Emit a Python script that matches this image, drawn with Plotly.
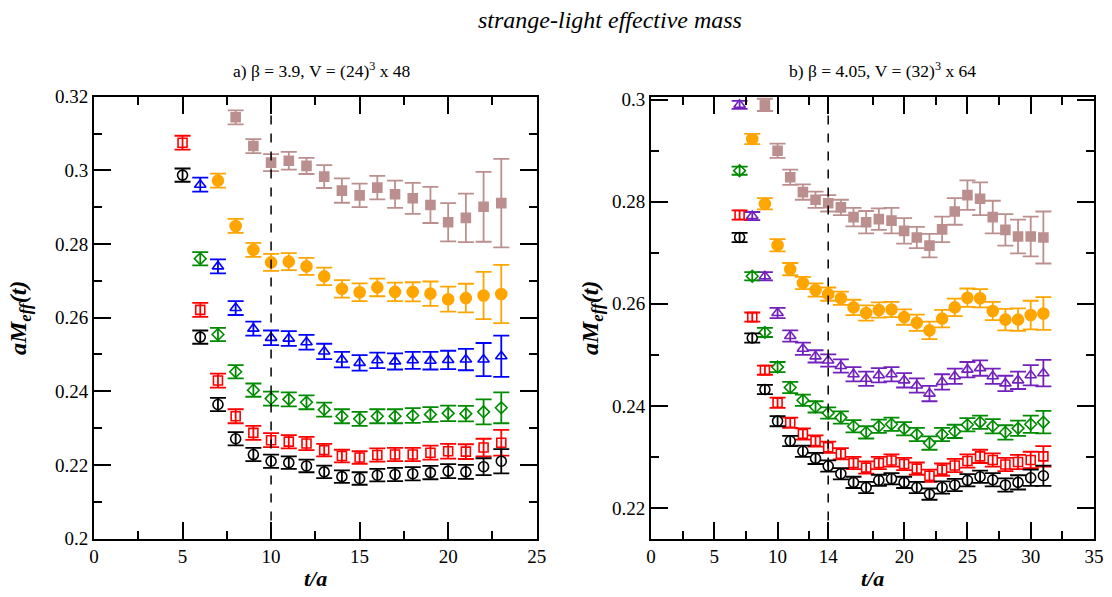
import plotly.graph_objects as go

# ---------------- data: panel a) beta=3.9 ----------------
tL_black = list(range(5, 24))
black_L = [0.2987, 0.2547, 0.2364, 0.2271, 0.2228, 0.2210, 0.2206, 0.2197, 0.2181, 0.2168,
           0.2163, 0.2172, 0.2174, 0.2176, 0.2179, 0.2183, 0.2181, 0.2195, 0.2210]
black_L_err = [0.0018, 0.0018, 0.0018, 0.0018, 0.0018, 0.0018, 0.0017, 0.0017, 0.0017, 0.0017,
               0.0017, 0.0017, 0.0018, 0.0018, 0.0018, 0.0019, 0.0019, 0.0023, 0.0033]

tL_red = list(range(5, 24))
red_L = [0.3075, 0.2621, 0.2429, 0.2332, 0.2287, 0.2267, 0.2263, 0.2258, 0.2240, 0.2224,
         0.2220, 0.2227, 0.2228, 0.2228, 0.2233, 0.2237, 0.2236, 0.2247, 0.2260]
red_L_err = [0.0019, 0.0019, 0.0019, 0.0019, 0.0019, 0.0019, 0.0018, 0.0018, 0.0017, 0.0017,
             0.0017, 0.0018, 0.0018, 0.0018, 0.0019, 0.0020, 0.0020, 0.0024, 0.0035]

tL_blue = list(range(6, 24))
blue_L = [0.2961, 0.2739, 0.2626, 0.2570, 0.2545, 0.2543, 0.2533, 0.2508, 0.2486, 0.2477,
          0.2484, 0.2481, 0.2484, 0.2483, 0.2485, 0.2486, 0.2486, 0.2495]
blue_L_err = [0.0019, 0.0019, 0.0019, 0.0019, 0.0020, 0.0020, 0.0020, 0.0021, 0.0021, 0.0021,
              0.0021, 0.0022, 0.0023, 0.0024, 0.0025, 0.0029, 0.0045, 0.0056]

tL_green = list(range(6, 24))
green_L = [0.2760, 0.2554, 0.2453, 0.2403, 0.2380, 0.2378, 0.2370, 0.2350, 0.2332, 0.2325,
           0.2332, 0.2332, 0.2334, 0.2337, 0.2340, 0.2339, 0.2344, 0.2355]
green_L_err = [0.0018, 0.0018, 0.0018, 0.0018, 0.0019, 0.0019, 0.0019, 0.0019, 0.0019, 0.0019,
               0.0019, 0.0019, 0.0020, 0.0020, 0.0021, 0.0021, 0.0034, 0.0042]

tL_orange = list(range(7, 24))
orange_L = [0.2972, 0.2849, 0.2784, 0.2750, 0.2752, 0.2739, 0.2712, 0.2678, 0.2669, 0.2682,
            0.2670, 0.2670, 0.2665, 0.2650, 0.2653, 0.2660, 0.2664]
orange_L_err = [0.0019, 0.0019, 0.0019, 0.0023, 0.0023, 0.0023, 0.0024, 0.0024, 0.0024, 0.0024,
                0.0025, 0.0026, 0.0033, 0.0034, 0.0039, 0.0064, 0.0079]

tL_brown = list(range(8, 24))
brown_L = [0.3144, 0.3066, 0.3021, 0.3026, 0.3012, 0.2983, 0.2945, 0.2932, 0.2953, 0.2935,
           0.2924, 0.2906, 0.2859, 0.2871, 0.2901, 0.2911]
brown_L_err = [0.0019, 0.0019, 0.0023, 0.0024, 0.0022, 0.0031, 0.0033, 0.0032, 0.0032, 0.0037,
               0.0042, 0.0049, 0.0052, 0.0066, 0.0095, 0.0120]

# ---------------- data: panel b) beta=4.05 ----------------
tR_black = list(range(7, 32))
black_R = [0.2730, 0.2533, 0.2432, 0.2370, 0.2331, 0.2311, 0.2297, 0.2282, 0.2267, 0.2250,
           0.2240, 0.2254, 0.2257, 0.2250, 0.2240, 0.2227, 0.2240, 0.2245, 0.2254, 0.2261,
           0.2255, 0.2245, 0.2250, 0.2259, 0.2263]
black_R_err = [0.0009, 0.0009, 0.0009, 0.0010, 0.0010, 0.0011, 0.0011, 0.0011, 0.0011, 0.0011,
               0.0011, 0.0011, 0.0011, 0.0011, 0.0011, 0.0011, 0.0012, 0.0012, 0.0012, 0.0012,
               0.0013, 0.0013, 0.0014, 0.0016, 0.0020]

tR_red = list(range(7, 32))
red_R = [0.2774, 0.2574, 0.2470, 0.2406, 0.2367, 0.2345, 0.2331, 0.2319, 0.2306, 0.2288,
         0.2279, 0.2288, 0.2293, 0.2286, 0.2277, 0.2263, 0.2275, 0.2283, 0.2292, 0.2301,
         0.2294, 0.2285, 0.2290, 0.2294, 0.2301]
red_R_err = [0.0009, 0.0009, 0.0009, 0.0010, 0.0010, 0.0011, 0.0011, 0.0011, 0.0011, 0.0012,
             0.0012, 0.0012, 0.0012, 0.0012, 0.0012, 0.0012, 0.0012, 0.0013, 0.0013, 0.0013,
             0.0013, 0.0013, 0.0014, 0.0016, 0.0020]

tR_green = list(range(7, 32))
green_R = [0.2861, 0.2654, 0.2544, 0.2476, 0.2436, 0.2411, 0.2398, 0.2386, 0.2377, 0.2360,
           0.2348, 0.2360, 0.2364, 0.2355, 0.2344, 0.2327, 0.2344, 0.2350, 0.2363, 0.2368,
           0.2360, 0.2348, 0.2356, 0.2364, 0.2368]
green_R_err = [0.0008, 0.0008, 0.0009, 0.0010, 0.0011, 0.0011, 0.0011, 0.0011, 0.0012, 0.0012,
               0.0012, 0.0013, 0.0013, 0.0013, 0.0013, 0.0013, 0.0013, 0.0013, 0.0013, 0.0013,
               0.0014, 0.0014, 0.0015, 0.0017, 0.0022]

tR_purple = list(range(7, 32))
purple_R = [0.2990, 0.2772, 0.2654, 0.2582, 0.2537, 0.2512, 0.2497, 0.2489, 0.2478, 0.2462,
            0.2453, 0.2460, 0.2462, 0.2450, 0.2440, 0.2424, 0.2447, 0.2458, 0.2471, 0.2474,
            0.2458, 0.2444, 0.2450, 0.2460, 0.2464]
purple_R_err = [0.0008, 0.0008, 0.0008, 0.0010, 0.0011, 0.0012, 0.0012, 0.0012, 0.0013, 0.0014,
                0.0014, 0.0014, 0.0014, 0.0014, 0.0014, 0.0015, 0.0015, 0.0015, 0.0015, 0.0015,
                0.0015, 0.0015, 0.0017, 0.0020, 0.0026]

tR_orange = list(range(8, 32))
orange_R = [0.2923, 0.2796, 0.2715, 0.2668, 0.2641, 0.2627, 0.2619, 0.2611, 0.2593, 0.2582,
            0.2588, 0.2589, 0.2574, 0.2563, 0.2548, 0.2571, 0.2593, 0.2612, 0.2611, 0.2586,
            0.2569, 0.2569, 0.2578, 0.2581]
orange_R_err = [0.0010, 0.0011, 0.0012, 0.0012, 0.0012, 0.0013, 0.0013, 0.0013, 0.0015, 0.0015,
                0.0015, 0.0015, 0.0015, 0.0016, 0.0017, 0.0017, 0.0017, 0.0018, 0.0018, 0.0018,
                0.0021, 0.0022, 0.0028, 0.0032]

tR_brown = list(range(9, 32))
brown_R = [0.2990, 0.2900, 0.2848, 0.2819, 0.2804, 0.2797, 0.2789, 0.2770, 0.2760, 0.2766,
           0.2763, 0.2743, 0.2730, 0.2714, 0.2746, 0.2781, 0.2813, 0.2806, 0.2770, 0.2745,
           0.2732, 0.2732, 0.2730]
brown_R_err = [0.0012, 0.0014, 0.0015, 0.0015, 0.0016, 0.0016, 0.0015, 0.0018, 0.0022, 0.0021,
               0.0025, 0.0025, 0.0021, 0.0023, 0.0025, 0.0026, 0.0029, 0.0032, 0.0032, 0.0031,
               0.0033, 0.0039, 0.0051]

# tick labels
xL_ticks = [0, 5, 10, 15, 20, 25]
xL_minor = [2.5, 7.5, 12.5, 17.5, 22.5]
xR_ticks = [0, 5, 10, 14, 20, 25, 30, 35]
xR_minor = [2.5, 7.5, 12.5, 17.5, 22.5, 27.5, 32.5]
yL_ticks = [0.2, 0.22, 0.24, 0.26, 0.28, 0.3, 0.32]
yL_minor = [0.21, 0.23, 0.25, 0.27, 0.29, 0.31]
yR_ticks = [0.22, 0.24, 0.26, 0.28, 0.3]
yR_minor = [0.23, 0.25, 0.27, 0.29]

title_text = "<i>strange-light effective mass</i>"
panelA_title = "a) β = 3.9, V = (24)<sup>3</sup> x 48"
panelB_title = "b) β = 4.05, V = (32)<sup>3</sup> x 64"

# ---------------- colours ----------------
C_BLACK = "#000000"
C_RED = "#ff0000"
C_BLUE = "#0000ff"
C_GREEN = "#008b00"
C_ORANGE = "#ffa500"
C_BROWN = "#bc8f8f"
C_PURPLE = "#7221bc"

FONT = "Liberation Serif"

fig = go.Figure()


def add(t, v, e, color, symbol, size, xa, ya):
    fig.add_trace(go.Scatter(
        x=t, y=v, mode="markers", xaxis=xa, yaxis=ya, showlegend=False,
        marker=dict(symbol=symbol, size=size, color=color,
                    line=dict(color=color, width=1.6)),
        error_y=dict(type="data", array=e, visible=True, color=color,
                     thickness=1.8, width=8),
    ))


add(tL_brown, brown_L, brown_L_err, C_BROWN, "square", 9, "x", "y")
add(tL_orange, orange_L, orange_L_err, C_ORANGE, "circle", 11, "x", "y")
add(tL_blue, blue_L, blue_L_err, C_BLUE, "triangle-up-open", 10, "x", "y")
add(tL_green, green_L, green_L_err, C_GREEN, "diamond-open", 9, "x", "y")
add(tL_red, red_L, red_L_err, C_RED, "square-open", 9, "x", "y")
add(tL_black, black_L, black_L_err, C_BLACK, "circle-open", 10, "x", "y")

add(tR_brown, brown_R, brown_R_err, C_BROWN, "square", 9, "x2", "y2")
add(tR_orange, orange_R, orange_R_err, C_ORANGE, "circle", 11, "x2", "y2")
add(tR_purple, purple_R, purple_R_err, C_PURPLE, "triangle-up-open", 10, "x2", "y2")
add(tR_green, green_R, green_R_err, C_GREEN, "diamond-open", 9, "x2", "y2")
add(tR_red, red_R, red_R_err, C_RED, "square-open", 9, "x2", "y2")
add(tR_black, black_R, black_R_err, C_BLACK, "circle-open", 10, "x2", "y2")

W, H = 1112, 597
xL_dom = [94 / W, 536.7 / W]
xR_dom = [651 / W, 1094 / W]
y_dom = [(H - 538.5) / H, (H - 96.7) / H]


def fmt(v):
    s = ("%.2f" % v).rstrip("0")
    return s.rstrip(".") if s.endswith(".") else s


def axis(dom, rng, tv, minor_tv, anchor, ticktext=None):
    return dict(
        domain=dom, range=rng, anchor=anchor, automargin=False,
        tickmode="array", tickvals=tv, ticktext=ticktext if ticktext else [str(x) for x in tv],
        ticks="inside", ticklen=17, tickwidth=1.5, tickcolor="black",
        minor=dict(tickmode="array", tickvals=minor_tv, ticks="inside", ticklen=8,
                   tickwidth=1.5, tickcolor="black", showgrid=False),
        showline=True, linewidth=2, linecolor="black", mirror="allticks",
        showgrid=False, zeroline=False,
        tickfont=dict(family=FONT, size=19, color="black"),
    )


fig.update_layout(
    width=W, height=H,
    margin=dict(l=0, r=0, t=0, b=0, autoexpand=False),
    paper_bgcolor="white", plot_bgcolor="white",
    font=dict(family=FONT, color="black"),
    xaxis=axis(xL_dom, [0, 25], xL_ticks, xL_minor, "y"),
    yaxis=axis(y_dom, [0.2, 0.32], yL_ticks, yL_minor, "x", [fmt(v) for v in yL_ticks]),
    xaxis2=axis(xR_dom, [0, 35], xR_ticks, xR_minor, "y2"),
    yaxis2=axis(y_dom, [0.214, 0.3006], yR_ticks, yR_minor, "x2", [fmt(v) for v in yR_ticks]),
)

# dashed vertical lines
fig.add_shape(type="line", xref="x", yref="y", x0=10, x1=10, y0=0.2, y1=0.3177,
              line=dict(color="black", width=1.5, dash="dash"))
fig.add_shape(type="line", xref="x2", yref="y2", x0=14, x1=14, y0=0.214, y1=0.297,
              line=dict(color="black", width=1.5, dash="dash"))

ann = []
ann.append(dict(text=title_text, x=610 / W, y=1 - 20 / H, xref="paper", yref="paper",
                showarrow=False, font=dict(family=FONT, size=24, color="black"),
                xanchor="center", yanchor="middle"))
ann.append(dict(text=panelA_title, x=322 / W, y=1 - 70 / H, xref="paper", yref="paper",
                showarrow=False, font=dict(family=FONT, size=17.5, color="black"),
                xanchor="center", yanchor="middle"))
ann.append(dict(text=panelB_title, x=883 / W, y=1 - 70 / H, xref="paper", yref="paper",
                showarrow=False, font=dict(family=FONT, size=17.5, color="black"),
                xanchor="center", yanchor="middle"))
for xc in [315 / W, 872.5 / W]:
    ann.append(dict(text="<b><i>t/a</i></b>", x=xc, y=1 - 578 / H, xref="paper", yref="paper",
                    showarrow=False, font=dict(family=FONT, size=22, color="black"),
                    xanchor="center", yanchor="middle"))
for xc in [20 / W, 592 / W]:
    ann.append(dict(text="<b><i>aM<sub>eff</sub>(t)</i></b>", x=xc, y=1 - 318 / H,
                    xref="paper", yref="paper", textangle=-90,
                    showarrow=False, font=dict(family=FONT, size=24, color="black"),
                    xanchor="center", yanchor="middle"))
fig.update_layout(annotations=ann)

fig.write_html("out.html")
